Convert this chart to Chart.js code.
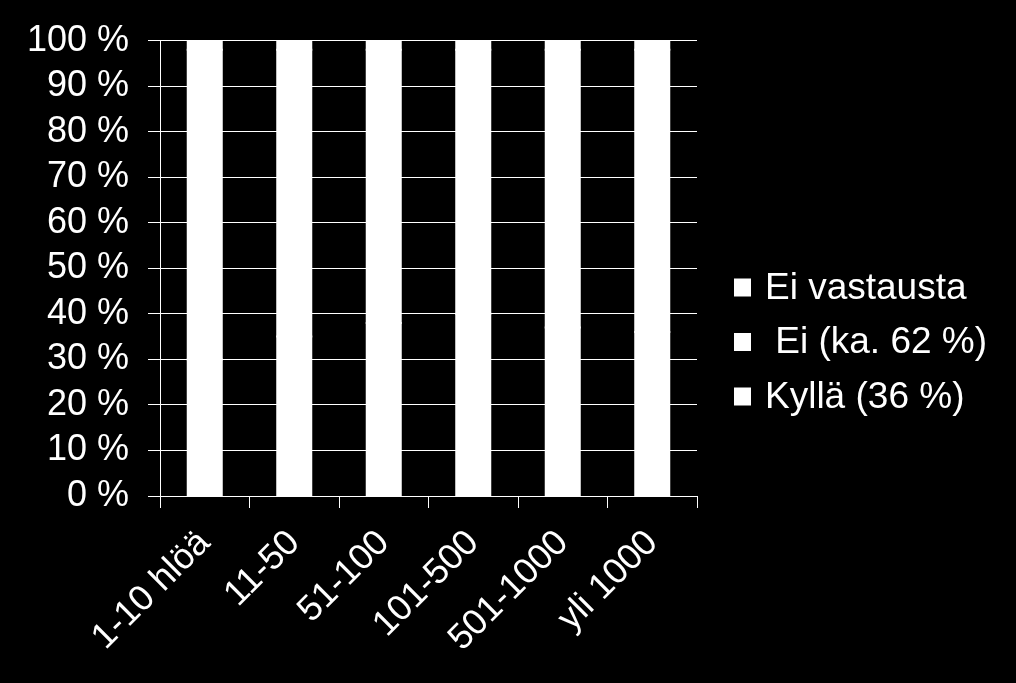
<!DOCTYPE html>
<html>
<head>
<meta charset="utf-8">
<script src="https://cdn.jsdelivr.net/npm/chart.js@4.4.1/dist/chart.umd.min.js"></script>
<style>
  html, body { margin: 0; padding: 0; background: #000; }
  #wrap { width: 1016px; height: 683px; position: relative; }
</style>
</head>
<body>
<div id="wrap"><canvas id="chart" width="1016" height="683"></canvas></div>
<script>
// categories (company size) and stacked shares, %
const categories = ["1-10 hlöä", "11-50", "51-100", "101-500", "501-1000", "yli 1000"]
const kylla = [30, 35, 38, 40, 37, 36]
const ei = [68, 63, 60, 58, 61, 62]
const eiVastausta = [2, 2, 2, 2, 2, 2]
const yTicks = [0, 10, 20, 30, 40, 50, 60, 70, 80, 90, 100]

const seriesLabels = ["Kyllä (36 %)", " Ei (ka. 62 %)", "Ei vastausta"]
const seriesColors = ["#ffffff", "#ffffff", "#ffffff"]

const FONT = "'Liberation Sans', Arial, sans-serif"

// legend drawn on the right, top item = last dataset
const sideLegend = {
    id: "sideLegend",
    afterDraw(chart) {
        const ctx = chart.ctx
        const sets = chart.data.datasets
        ctx.save()
        ctx.font = "37px " + FONT
        ctx.textBaseline = "middle"
        ctx.textAlign = "left"
        for (let i = 0; i < sets.length; i++) {
            const ds = sets[sets.length - 1 - i]
            const cy = 287.5 + i * 54.5
            ctx.fillStyle = ds.backgroundColor
            ctx.fillRect(734, cy - 9, 17, 18)
            ctx.fillStyle = "#ffffff"
            ctx.fillText(ds.label, 765, cy + 1)
        }
        ctx.restore()
    }
}

const chartElement = document.getElementById("chart")
const chart = new Chart(chartElement, {
    type: "bar",
    data: {
        labels: categories,
        datasets: [
            { label: seriesLabels[0], data: kylla, backgroundColor: seriesColors[0] },
            { label: seriesLabels[1], data: ei, backgroundColor: seriesColors[1] },
            { label: seriesLabels[2], data: eiVastausta, backgroundColor: seriesColors[2] }
        ]
    },
    options: {
        responsive: false,
        animation: false,
        devicePixelRatio: 1,
        layout: { padding: { top: 40, right: 319, left: 0, bottom: 0 } },
        datasets: {
            bar: { categoryPercentage: 1, barPercentage: 0.38, borderWidth: 0, inflateAmount: 1 }
        },
        plugins: {
            legend: { display: false },
            tooltip: { enabled: false }
        },
        scales: {
            x: {
                stacked: true,
                afterFit(scale) { scale.height = 187 },
                border: { display: true, color: "#ffffff", width: 1 },
                grid: {
                    offset: true,
                    drawOnChartArea: false,
                    drawTicks: true,
                    tickLength: 12,
                    color: "#ffffff"
                },
                ticks: {
                    color: "#ffffff",
                    font: { family: FONT, size: 36 },
                    minRotation: 45,
                    maxRotation: 45,
                    autoSkip: false,
                    padding: 14
                }
            },
            y: {
                stacked: true,
                min: 0,
                max: 100,
                afterFit(scale) { scale.width = 160 },
                afterBuildTicks(scale) { scale.ticks = yTicks.map(v => ({ value: v })) },
                border: { display: true, color: "#ffffff", width: 1 },
                grid: {
                    color: "#ffffff",
                    lineWidth: 1,
                    tickLength: 12
                },
                ticks: {
                    color: "#ffffff",
                    font: { family: FONT, size: 36 },
                    padding: 19,
                    autoSkip: false,
                    callback: v => v + " %"
                }
            }
        }
    },
    plugins: [sideLegend]
})
</script>
</body>
</html>
